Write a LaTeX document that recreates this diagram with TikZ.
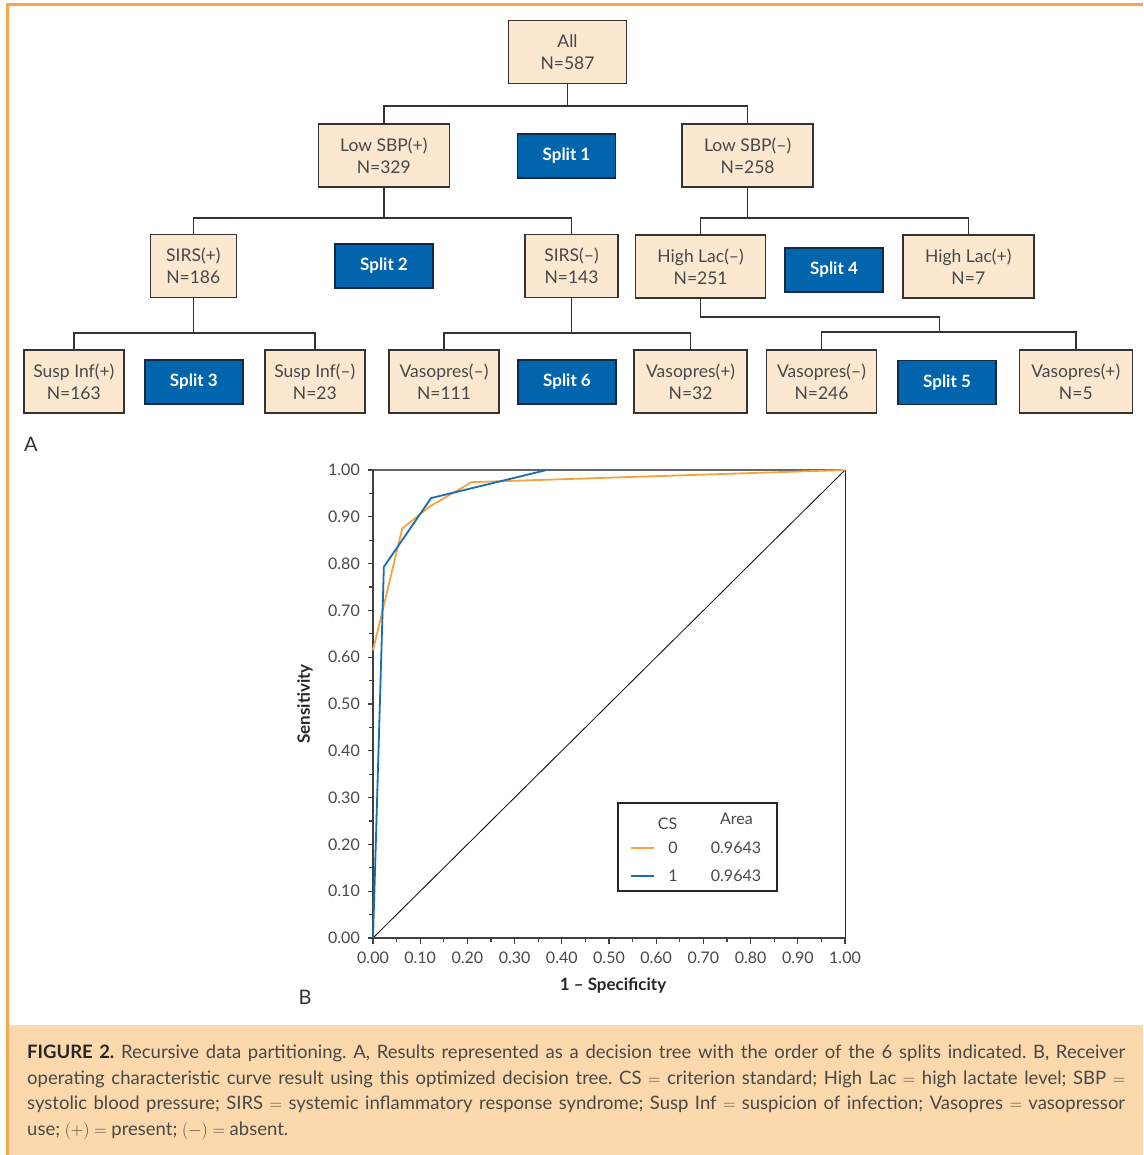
\documentclass[tikz,border=0pt]{standalone}
\usepackage{fontspec}
\setmainfont{Lato}
\definecolor{boxfill}{RGB}{252,232,209}
\definecolor{splitblue}{RGB}{0,101,173}
\definecolor{splitline}{RGB}{22,40,70}
\definecolor{frameorange}{RGB}{248,164,78}
\definecolor{capfill}{RGB}{252,217,172}
\definecolor{roczero}{RGB}{247,163,60}
\definecolor{rocone}{RGB}{24,108,180}
\definecolor{txtgray}{RGB}{72,72,72}
\begin{document}
\begin{tikzpicture}[x=1pt,y=-1pt,
  tnode/.style={draw=black!80,line width=1.5pt,fill=boxfill,text=txtgray,align=center,
    minimum height=63pt,inner sep=3pt,font=\fontsize{17.5}{22}\selectfont},
  splitbox/.style={draw=splitline,line width=1.5pt,fill=splitblue,text=white,
    minimum width=98pt,minimum height=44pt,font=\fontsize{17}{20}\selectfont\bfseries},
  conn/.style={draw=black!80,line width=1.6pt},
  ticklab/.style={text=txtgray,font=\fontsize{16}{18}\selectfont,inner sep=0pt},
  axlab/.style={text=black!85,font=\fontsize{17}{20}\selectfont\bfseries}]
\useasboundingbox (0,0) rectangle (1143,1155);
% frame and caption band
\fill[capfill] (9,1025) rectangle (1143,1155);
\draw[frameorange,line width=3.5pt] (7.5,1155) -- (7.5,4.5) -- (1143,4.5);

% decision tree
\node[tnode,minimum width=118pt] (all) at (567.5,52) {All\\N=587};
\node[tnode,minimum width=131pt] (sbpp) at (383.8,155.5) {Low SBP(+)\\N=329};
\node[splitbox] (s1) at (566.5,156) {Split 1};
\node[tnode,minimum width=131pt] (sbpn) at (747.6,155.5) {Low SBP(--)\\N=258};
\node[tnode,minimum width=86pt] (sirsp) at (193.3,266) {SIRS(+)\\N=186};
\node[splitbox] (s2) at (384,266) {Split 2};
\node[tnode,minimum width=93pt] (sirsn) at (571.5,266) {SIRS(--)\\N=143};
\node[tnode,minimum width=130pt] (hlacn) at (700.6,266.5) {High Lac(--)\\N=251};
\node[splitbox] (s4) at (834,270) {Split 4};
\node[tnode,minimum width=131pt] (hlacp) at (968.3,266.5) {High Lac(+)\\N=7};
\node[tnode,minimum width=100pt] (sinfp) at (73.8,381.3) {Susp Inf(+)\\N=163};
\node[splitbox] (s3) at (193.8,382) {Split 3};
\node[tnode,minimum width=100pt] (sinfn) at (314.8,381.3) {Susp Inf(--)\\N=23};
\node[tnode,minimum width=110pt] (vpsn) at (444,381.3) {Vasopres(--)\\N=111};
\node[splitbox] (s6) at (567,382) {Split 6};
\node[tnode,minimum width=113pt] (vpsp) at (690.6,381.3) {Vasopres(+)\\N=32};
\node[tnode,minimum width=110pt] (vpfn) at (821.5,381.3) {Vasopres(--)\\N=246};
\node[splitbox] (s5) at (947,382.5) {Split 5};
\node[tnode,minimum width=113pt] (vpfp) at (1075.8,381.3) {Vasopres(+)\\N=5};
\coordinate (jfive) at (939.5,332);

\draw[conn] (all.south) -- ++(0,22) -| (sbpp.north);
\draw[conn] (all.south) -- ++(0,22) -| (sbpn.north);
\draw[conn] (sbpp.south) -- ++(0,30) -| (sirsp.north);
\draw[conn] (sbpp.south) -- ++(0,30) -| (sirsn.north);
\draw[conn] (sbpn.south) -- ++(0,30) -| (hlacn.north);
\draw[conn] (sbpn.south) -- ++(0,30) -| (hlacp.north);
\draw[conn] (sirsp.south) -- ++(0,34.5) -| (sinfp.north);
\draw[conn] (sirsp.south) -- ++(0,34.5) -| (sinfn.north);
\draw[conn] (sirsn.south) -- ++(0,34.5) -| (vpsn.north);
\draw[conn] (sirsn.south) -- ++(0,34.5) -| (vpsp.north);
\draw[conn] (hlacn.south) -- ++(0,18) -| (jfive);
\draw[conn] (jfive) -| (vpfn.north);
\draw[conn] (jfive) -| (vpfp.north);

\node[text=black!80,font=\fontsize{20}{24}\selectfont] (lbla) at (31,444) {A};
\node[text=black!80,font=\fontsize{20}{24}\selectfont] (lblb) at (305,997) {B};

% ROC plot
\begin{scope}[shift={(373pt,-938pt)},x=472pt,y=468pt]
  \draw[line width=0.8pt] (0,0) -- (1,1);
  \draw[line width=2pt,black!60] (0,1) -- (1,1);
  \draw[line width=1pt,black!85] (1,0) -- (1,1);
  \draw[line width=1.5pt,black!75] (0,1) -- (0,0) -- (1,0);
  \foreach \t [count=\i] in {0.00,0.10,0.20,0.30,0.40,0.50,0.60,0.70,0.80,0.90,1.00}{
    \draw[line width=1.2pt,black!75] (0,\t) -- ++(-5pt,0);
    \draw[line width=1.2pt,black!75] (\t,0) -- ++(0,-6pt);
    \node[ticklab,anchor=east] (ytick\i) at ([xshift=-13pt]0,\t) {\t};
    \node[ticklab,anchor=north] (xtick\i) at ([yshift=-14pt]\t,0) {\t};
  }
  \foreach \t in {0.05,0.15,...,0.95}{
    \draw[line width=1.2pt,black!75] (0,\t) -- ++(-4pt,0);
    \draw[line width=1.2pt,black!75] (\t,0) -- ++(0,-4pt);
  }
  \draw[roczero,line width=1.8pt,line join=round] (0,0.615) -- (0.062,0.875) -- (0.12,0.922) -- (0.209,0.974) -- (1,1);
  \draw[rocone,line width=1.8pt,line join=round] (0,0) -- (0.003,0.1) -- (0.023,0.793) -- (0.123,0.94) -- (0.368,1);
\end{scope}
\node[axlab,rotate=90] (ylabel) at (305,704) {Sensitivity};
\node[axlab] (xlabel) at (613,986) {1 -- Specificity};

% legend
\draw[line width=1.5pt,black!85] (618,803) rectangle (777,891);
\node[ticklab] (lcs) at (667.5,824) {CS};
\node[ticklab] (larea) at (736.5,819) {Area};
\draw[roczero,line width=2.4pt] (631,848) -- (654,848);
\node[ticklab] (lzero) at (673,848) {0};
\node[ticklab] (lzeroa) at (736,848) {0.9643};
\draw[rocone,line width=2.4pt] (631,876) -- (654,876);
\node[ticklab] (lone) at (673,876) {1};
\node[ticklab] (lonea) at (736,876) {0.9643};

% caption
\node[anchor=north west,inner sep=0pt,text width=1098pt,align=justify,text=txtgray,
  font=\fontsize{18.5}{25.5}\selectfont\frenchspacing] (caption) at (27,1045) {{\fontsize{18.5}{25.5}\selectfont\bfseries\color{black!85}FIGURE 2.}
  Recursive data partitioning. A, Results represented as a decision tree with the order of the 6 splits indicated. B, Receiver\linebreak
  operating characteristic curve result using this optimized decision tree. CS $=$ criterion standard; High Lac $=$ high lactate level; SBP $=$\linebreak
  systolic blood pressure; SIRS $=$ systemic inflammatory response syndrome; Susp Inf $=$ suspicion of infection; Vasopres $=$ vasopressor\linebreak
  use; $(+)$ $=$ present; $(-)$ $=$ absent.};
\end{tikzpicture}
\end{document}
